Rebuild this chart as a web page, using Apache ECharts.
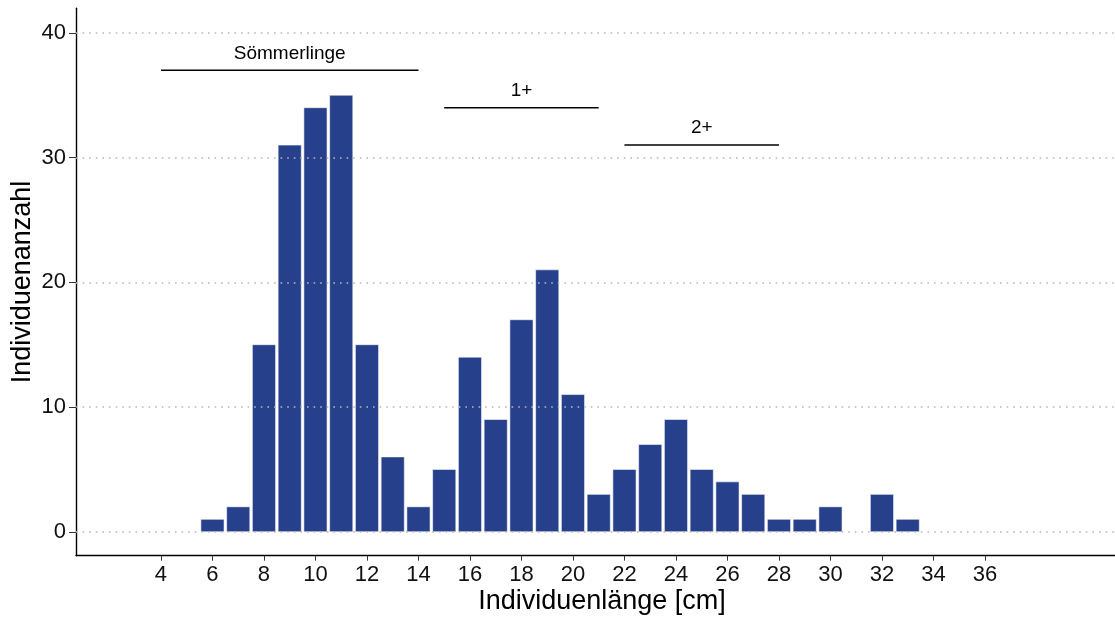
<!DOCTYPE html>
<html>
<head>
<meta charset="utf-8">
<script src="https://cdn.jsdelivr.net/npm/echarts@6/dist/echarts.min.js"></script>
<style>
  html, body { margin: 0; padding: 0; background: #fff; }
  #chart { width: 1115px; height: 617px; }
</style>
</head>
<body>
<div id="chart"></div>
<script>
// Length classes (cm) and number of individuals per class
var lengths = [6, 7, 8, 9, 10, 11, 12, 13, 14, 15, 16, 17, 18, 19, 20, 21, 22, 23, 24, 25, 26, 27, 28, 29, 30, 31, 32, 33];
var counts  = [1, 2, 15, 31, 34, 35, 15, 6, 2, 5, 14, 9, 17, 21, 11, 3, 5, 7, 9, 5, 4, 3, 1, 1, 2, 0, 3, 1];

// Axis tick labels
var xTicks = [4, 6, 8, 10, 12, 14, 16, 18, 20, 22, 24, 26, 28, 30, 32, 34, 36];
var yTicks = [0, 10, 20, 30, 40];

// Age-group brackets
var groupLabels = ['Sömmerlinge', '1+', '2+'];
var groupStart  = [4, 15, 22];
var groupEnd    = [14, 21, 28];
var groupLevel  = [37, 34, 31];

var FONT = '"Liberation Sans", Arial, sans-serif';
var BAR_COLOR = '#27408B';

var barData = [];
for (var i = 0; i < lengths.length; i++) {
  if (counts[i] > 0) barData.push([lengths[i], counts[i]]);
}
var bracketData = [];
for (var j = 0; j < groupLabels.length; j++) {
  bracketData.push([groupStart[j], groupEnd[j], groupLevel[j], groupLabels[j]]);
}

var chart = echarts.init(document.getElementById('chart'), null, { renderer: 'canvas' });

chart.setOption({
  backgroundColor: '#ffffff',
  animation: false,
  grid: { left: 76, right: 0, top: 8.3, bottom: 61.3, containLabel: false, outerBoundsMode: 'none' },
  xAxis: {
    type: 'value',
    min: 0.7,
    max: 41.05,
    name: 'Individuenlänge [cm]',
    nameLocation: 'middle',
    nameGap: 32,
    nameMoveOverlap: false,
    nameTextStyle: { fontFamily: FONT, fontSize: 27, color: '#000', padding: [0, 0, 0, 13] },
    axisLine: { show: true, onZero: false, lineStyle: { color: '#000', width: 1.4 } },
    axisTick: { show: true, length: 5, customValues: xTicks, lineStyle: { color: '#333', width: 1 } },
    axisLabel: { customValues: xTicks, fontFamily: FONT, fontSize: 22, color: '#111', margin: 8 },
    splitLine: { show: false }
  },
  yAxis: {
    type: 'value',
    min: -1.92,
    max: 41.97,
    name: 'Individuenanzahl',
    nameLocation: 'middle',
    nameGap: 40,
    nameMoveOverlap: false,
    nameTextStyle: { fontFamily: FONT, fontSize: 27, color: '#000' },
    axisLine: { show: true, onZero: false, lineStyle: { color: '#000', width: 1.4 } },
    axisTick: { show: true, length: 7, customValues: yTicks, lineStyle: { color: '#333', width: 1 } },
    axisLabel: { customValues: yTicks, fontFamily: FONT, fontSize: 22, color: '#111', margin: 10 },
    splitLine: { show: false }
  },
  series: [
    {
      // horizontal dotted reference lines
      type: 'line',
      data: [],
      silent: true,
      markLine: {
        silent: true,
        symbol: ['none', 'none'],
        label: { show: false },
        lineStyle: { color: '#b8b8b8', type: [1.6, 5], width: 1.5 },
        data: yTicks.map(function (v) { return { yAxis: v }; })
      }
    },
    {
      type: 'custom',
      data: barData,
      z: 3,
      renderItem: function (params, api) {
        var x = api.value(0), y = api.value(1);
        var p0 = api.coord([x - 0.45, y]);
        var p1 = api.coord([x + 0.45, 0]);
        return {
          type: 'rect',
          shape: { x: p0[0], y: p0[1], width: p1[0] - p0[0], height: p1[1] - p0[1] },
          style: { fill: BAR_COLOR, stroke: 'rgba(255,255,255,0.55)', lineWidth: 1 }
        };
      }
    },
    {
      type: 'custom',
      data: bracketData,
      z: 4,
      renderItem: function (params, api) {
        var s = api.value(0), e = api.value(1), h = api.value(2);
        var label = bracketData[params.dataIndex][3];
        var a = api.coord([s, h]);
        var b = api.coord([e, h]);
        return {
          type: 'group',
          children: [
            {
              type: 'line',
              shape: { x1: a[0], y1: a[1], x2: b[0], y2: b[1] },
              style: { stroke: '#000', lineWidth: 1.5 }
            },
            {
              type: 'text',
              style: {
                x: (a[0] + b[0]) / 2,
                y: a[1] - 17,
                text: label,
                fill: '#000',
                font: '19px ' + FONT,
                textAlign: 'center',
                textVerticalAlign: 'middle'
              }
            }
          ]
        };
      }
    }
  ]
});
</script>
</body>
</html>
